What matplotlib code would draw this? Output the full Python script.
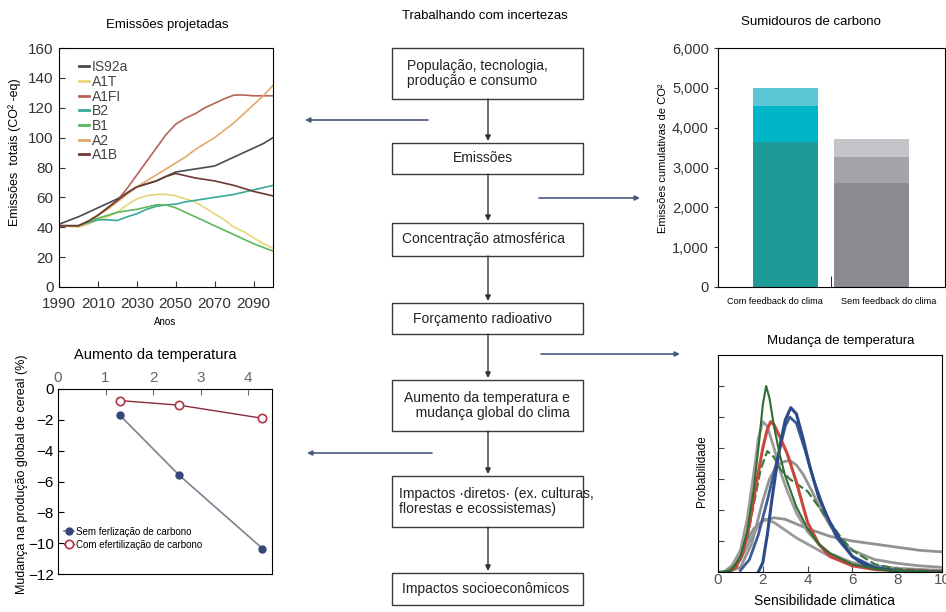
import numpy as np
import matplotlib.pyplot as plt
from matplotlib.patches import Rectangle

plt.rcParams['font.family'] = ['Liberation Sans', 'DejaVu Sans']

# ---- Emissoes projetadas
anos = [1990, 1995, 2000, 2005, 2010, 2015, 2020, 2025, 2030, 2035, 2040, 2045,
        2050, 2055, 2060, 2065, 2070, 2075, 2080, 2085, 2090, 2095, 2100]
is92a = [42, 44.5, 47, 50, 53, 56, 59, 63, 67, 69, 71, 74, 77, 78, 79, 80, 81, 84, 87, 90, 93, 96, 100]
a1t = [41, 40.5, 40, 42, 45, 47, 50, 55, 59, 61, 62, 62, 61, 59, 57, 53, 49, 45, 40, 37, 33, 29, 26]
a1fi = [41, 41, 41, 44, 48, 53, 58, 66, 75, 84, 93, 102, 109, 113, 116, 120, 123, 126, 128.5, 128.5, 128, 128, 128]
b2 = [41, 41, 41, 43, 45, 45, 44.5, 47, 49, 52, 54, 55, 55.5, 57, 58, 59, 60, 61, 62, 63.5, 65, 66.5, 68]
b1 = [41, 41, 41, 44, 46, 48, 50, 51, 52, 53.5, 55, 55, 53, 50, 47, 44, 41, 38, 35, 32, 29, 26.5, 24]
a2 = [41, 41, 41, 44, 48, 52, 57, 62, 67, 71, 75, 79, 83, 87, 92, 96, 100, 105, 110, 116, 122, 128, 135]
a1b = [41, 41, 41, 44, 48, 53, 58, 63, 67, 69, 71, 74, 76, 74.5, 73, 72, 71, 69.5, 68, 66, 64, 62.5, 61]
cenarios = ["IS92a", "A1T", "A1FI", "B2", "B1", "A2", "A1B"]
cores_cen = ["#4a4a52", "#e6d67a", "#b5645a", "#3aa89a", "#5cb85c", "#e3a96b", "#6b3a30"]

# ---- Sumidouros de carbono
categorias = ["Com feedback do clima", "Sem feedback do clima"]
seg1 = [3650, 2620]
seg2 = [900, 650]
seg3 = [450, 450]

# ---- Aumento da temperatura x producao de cereal
temp = [1.3, 2.55, 4.3]
sem_fert = [-1.7, -5.6, -10.35]
com_fert = [-0.75, -1.05, -1.9]

# ---- Mudanca de temperatura (curvas de probabilidade)
verde_x = [0, 0.6, 1.0, 1.3, 1.6, 1.85, 2.0, 2.15, 2.3, 2.5, 2.75, 3.0, 3.5, 4.0, 4.5, 5.0, 6.0, 7.0, 8.0, 10.0]
verde_y = [0, 0.05, 0.5, 1.3, 2.7, 4.3, 5.4, 6.0, 5.6, 4.7, 3.8, 3.1, 2.1, 1.4, 0.9, 0.6, 0.25, 0.1, 0.04, 0.0]
verde2_x = [0.5, 1.0, 1.3, 1.6, 1.9, 2.2, 2.5, 2.8, 3.2, 3.6, 4.0, 4.5, 5.0, 5.5, 6.0, 7.0, 8.0, 10.0]
verde2_y = [0.05, 0.4, 1.1, 2.2, 3.3, 3.9, 3.7, 3.3, 3.0, 2.8, 2.6, 2.1, 1.6, 1.1, 0.7, 0.25, 0.1, 0.02]
cinzaA_x = [0.5, 1.0, 1.3, 1.6, 1.8, 2.0, 2.2, 2.5, 2.8, 3.1, 3.5, 4.0, 4.5, 5.0, 6.0, 7.0, 8.0, 10.0]
cinzaA_y = [0.05, 0.7, 1.7, 3.2, 4.3, 4.85, 4.7, 4.0, 3.2, 2.6, 1.9, 1.3, 0.9, 0.6, 0.3, 0.15, 0.08, 0.02]
cinzaB_x = [0.5, 1.0, 1.5, 2.0, 2.3, 2.6, 2.9, 3.2, 3.5, 3.8, 4.2, 4.6, 5.0, 5.5, 6.0, 7.0, 8.0, 9.0, 10.0]
cinzaB_y = [0.02, 0.15, 0.9, 2.3, 3.0, 3.4, 3.55, 3.6, 3.45, 3.15, 2.6, 2.0, 1.5, 1.0, 0.7, 0.4, 0.28, 0.2, 0.15]
cinzaC_x = [0.3, 0.8, 1.2, 1.6, 2.0, 2.5, 3.0, 3.5, 4.0, 5.0, 6.0, 7.0, 8.0, 9.0, 10.0]
cinzaC_y = [0.02, 0.3, 0.9, 1.4, 1.65, 1.75, 1.7, 1.55, 1.4, 1.15, 1.0, 0.9, 0.8, 0.7, 0.65]
cinzaD_x = [0.5, 1.0, 1.5, 1.8, 2.1, 2.5, 3.0, 3.5, 4.0, 4.5, 5.0, 6.0, 7.0, 8.0, 10.0]
cinzaD_y = [0.05, 0.4, 1.1, 1.5, 1.7, 1.6, 1.35, 1.1, 0.9, 0.7, 0.5, 0.3, 0.2, 0.12, 0.05]
verm_x = [0.5, 0.8, 1.1, 1.4, 1.7, 2.0, 2.2, 2.35, 2.5, 2.8, 3.1, 3.5, 4.0, 4.5, 5.0, 6.0, 7.0, 8.0, 10.0]
verm_y = [0.02, 0.15, 0.6, 1.5, 2.8, 4.0, 4.6, 4.85, 4.75, 4.3, 3.8, 2.9, 1.6, 0.9, 0.5, 0.2, 0.08, 0.04, 0.02]
azul_x = [1.8, 2.0, 2.2, 2.4, 2.6, 2.8, 3.0, 3.25, 3.5, 3.8, 4.1, 4.5, 5.0, 5.5, 6.0, 6.5, 7.0, 8.0, 10.0]
azul_y = [0.0, 0.3, 1.2, 2.3, 3.3, 4.2, 4.9, 5.3, 5.1, 4.3, 3.4, 2.4, 1.6, 1.0, 0.5, 0.25, 0.12, 0.03, 0.0]
azul2_x = [1.0, 1.4, 1.8, 2.2, 2.6, 3.0, 3.2, 3.5, 3.9, 4.3, 4.8, 5.3, 6.0, 7.0, 8.0, 10.0]
azul2_y = [0.05, 0.4, 1.2, 2.3, 3.5, 4.7, 5.0, 4.8, 3.9, 2.9, 1.9, 1.1, 0.5, 0.15, 0.05, 0.0]

# ---- Fluxograma
caixas = ["População, tecnologia,\nprodução e consumo", "Emissões", "Concentração atmosférica",
          "Forçamento radioativo", "Aumento da temperatura e\n   mudança global do clima",
          "Impactos ·diretos· (ex. culturas,\nflorestas e ecossistemas)", "Impactos socioeconômicos"]

W, H = 946, 612
fig = plt.figure(figsize=(W / 100, H / 100), dpi=100)
fig.patch.set_facecolor('white')


def px_axes(x0, y0, x1, y1):
    return fig.add_axes([x0 / W, 1 - y1 / H, (x1 - x0) / W, (y1 - y0) / H])


# ===== Emissoes projetadas
ax1 = px_axes(59, 48, 273, 287)
series = [is92a, a1t, a1fi, b2, b1, a2, a1b]
for nome, ys, c in zip(cenarios, series, cores_cen):
    ax1.plot(anos, ys, color=c, lw=1.2, label=nome)
ax1.set_xlim(1990, 2100)
ax1.set_ylim(0, 160)
ax1.set_xticks(range(1990, 2100, 20))
ax1.set_yticks(range(0, 161, 20))
ax1.tick_params(direction='in', labelsize=11, length=4, colors='#333333', pad=4)
ax1.tick_params(axis='x', pad=7)
leg = ax1.legend(loc='upper left', frameon=False, fontsize=10, handlelength=0.7,
                 handletextpad=0.2, labelspacing=0.05, borderaxespad=0.3,
                 bbox_to_anchor=(0.05, 0.99))
for t in leg.get_texts():
    t.set_color('#444444')
for l in leg.get_lines():
    l.set_linewidth(2)

# ===== Producao de cereal
ax2 = px_axes(58, 389, 272, 574)
ax2.plot(temp, sem_fert, color='#7d8290', lw=1.2, marker='o', ms=5,
         mfc='#34477a', mec='#34477a', label='Sem ferlização de carbono')
ax2.plot(temp, com_fert, color='#8b2a3a', lw=1.0, marker='o', ms=6,
         mfc='white', mec='#b03545', mew=1.2, label='Com efertilização de carbono')
ax2.set_xlim(0, 4.5)
ax2.set_ylim(-12, 0)
ax2.xaxis.tick_top()
ax2.set_xticks([0, 1, 2, 3, 4])
ax2.set_yticks(range(-12, 1, 2))
ax2.tick_params(direction='in', labelsize=11, length=4, pad=3)
ax2.tick_params(axis='x', colors='#666666')
ax2.legend(loc='lower left', frameon=False, fontsize=7, handlelength=1.0,
           handletextpad=0.2, labelspacing=0.3, borderaxespad=0.2,
           bbox_to_anchor=(0.0, 0.1))

# ===== Sumidouros de carbono
ax3 = px_axes(718, 48, 945, 287)
pos = [0, 1]
larg = [0.756, 0.872]
ax3.bar(pos, seg1, width=larg, color=['#1e9a9a', '#8a8c90'])
ax3.bar(pos, seg2, width=larg, bottom=seg1, color=['#00b6c6', '#a2a4a8'])
base3 = [a + b for a, b in zip(seg1, seg2)]
ax3.bar(pos, seg3, width=larg, bottom=base3, color=['#5cc6d6', '#c4c5c9'])
ax3.set_xlim(-0.785, 1.855)
ax3.set_ylim(0, 6000)
ax3.set_yticks(range(0, 6001, 1000))
ax3.set_yticklabels([f"{v:,}" for v in range(0, 6001, 1000)])
ax3.set_xticks([])
ax3.set_xticks([0.53], minor=True)
ax3.tick_params(axis='x', which='minor', direction='in', length=8)
ax3.tick_params(axis='y', labelsize=10.5, length=3, colors='#333333')

# ===== Mudanca de temperatura
ax4 = px_axes(718, 355, 942, 572)
ax4.plot(cinzaC_x, cinzaC_y, color='#929292', lw=2)
ax4.plot(cinzaD_x, cinzaD_y, color='#9a9a9a', lw=2)
ax4.plot(cinzaB_x, cinzaB_y, color='#959595', lw=2)
ax4.plot(cinzaA_x, cinzaA_y, color='#9c9c9c', lw=2)
ax4.plot(verde2_x, verde2_y, color='#3c7a40', lw=1.6, ls=(0, (4, 1.5)))
ax4.plot(azul2_x, azul2_y, color='#3d5a95', lw=2)
ax4.plot(verm_x, verm_y, color='#c8463c', lw=2.2)
ax4.plot(azul_x, azul_y, color='#2c4a88', lw=2.2)
ax4.plot(verde_x, verde_y, color='#2e6e32', lw=1.5)
ax4.set_xlim(0, 10)
ax4.set_ylim(0, 7)
ax4.set_xticks(range(0, 11, 2))
ax4.set_yticks(range(1, 7))
ax4.set_yticklabels([])
ax4.tick_params(direction='in', labelsize=11, length=4, pad=1, colors='#444444')
ax4.tick_params(axis='x', labelcolor='#555555')

# ===== Camada de texto e fluxograma (coordenadas em pixels)
ov = fig.add_axes([0, 0, 1, 1], zorder=10)
ov.set_xlim(0, W)
ov.set_ylim(H, 0)
ov.axis('off')
ov.patch.set_alpha(0)

ov.text(167, 25, "Emissões projetadas", ha='center', va='center', fontsize=9.5)
ov.text(165, 322, "Anos", ha='center', va='center', fontsize=7)
ov.text(15, 152, "Emissões  totais (CO² -eq)", ha='center', va='center', rotation=90, fontsize=9)
ov.text(155, 355, "Aumento da temperatura", ha='center', va='center', fontsize=10.5)
ov.text(22, 474, "Mudança na produção global de cereal (%)", ha='center', va='center',
        rotation=90, fontsize=9)
ov.text(485, 16, "Trabalhando com incertezas", ha='center', va='center', fontsize=9.5)
ov.text(811, 22, "Sumidouros de carbono", ha='center', va='center', fontsize=9.5)
ov.text(663, 158, "Emissões cumulativas de CO²", ha='center', va='center', rotation=90, fontsize=8)
for cx, cat in zip([775, 889], categorias):
    ov.text(cx, 301, cat, ha='center', va='center', fontsize=6.6)
ov.text(841, 341, "Mudança de temperatura", ha='center', va='center', fontsize=9.5)
ov.text(702, 471, "Probabilidade", ha='center', va='center', rotation=90, fontsize=8.5)
ov.text(824, 601, "Sensibilidade climática", ha='center', va='center', fontsize=10)

bx0, bx1 = 392, 583
caixa_y = [(48, 99), (143, 174), (223, 256), (303, 334), (380, 431), (476, 527), (573, 605)]
texto_x = [407, None, 402, None, 404, 399, 402]
for (y0, y1), txt, tx in zip(caixa_y, caixas, texto_x):
    ov.add_patch(Rectangle((bx0, y0), bx1 - bx0, y1 - y0, fill=False,
                           edgecolor='#3a3a3a', lw=1.0))
    if tx is None:
        ov.text((bx0 + bx1) / 2 - 5, (y0 + y1) / 2, txt, ha='center', va='center',
                fontsize=10, color='#222222')
    else:
        ov.text(tx, (y0 + y1) / 2, txt, ha='left', va='center', fontsize=10,
                color='#222222', linespacing=1.15)

for (a0, a1), (b0, b1) in zip(caixa_y[:-1], caixa_y[1:]):
    ov.annotate('', xy=(488, b0 - 2), xytext=(488, a1),
                arrowprops=dict(arrowstyle='-|>', color='#333333', lw=1.0,
                                mutation_scale=8, shrinkA=0, shrinkB=0))

laterais = [((428, 120), (305, 120)), ((539, 198), (640, 198)),
            ((541, 354), (680, 354)), ((432, 453), (307, 453))]
for ini, fim in laterais:
    ov.annotate('', xy=fim, xytext=ini,
                arrowprops=dict(arrowstyle='-|>', color='#4a5a7e', lw=1.2,
                                mutation_scale=7, shrinkA=0, shrinkB=0))

fig.savefig('out.png', dpi=100)
